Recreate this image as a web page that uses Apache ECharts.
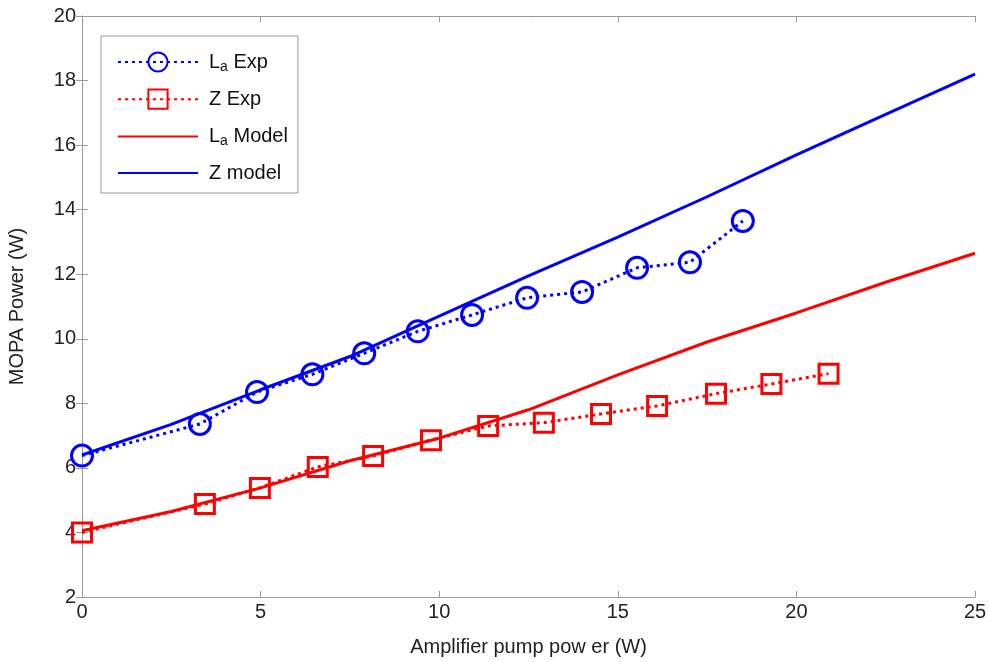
<!DOCTYPE html>
<html><head><meta charset="utf-8">
<script src="https://cdn.jsdelivr.net/npm/echarts@6/dist/echarts.min.js"></script>
<style>html,body{margin:0;padding:0;background:#fff}#c{width:989px;height:662px}</style>
</head><body><div id="c"></div>
<script>
// La experimental data
const laExpX = [0, 3.3, 4.9, 6.45, 7.9, 9.4, 10.92, 12.46, 14.0, 15.54, 17.02, 18.5];
const laExpY = [6.38, 7.36, 8.35, 8.9, 9.55, 10.23, 10.74, 11.27, 11.45, 12.2, 12.37, 13.65];
// Z experimental data
const zExpX = [0, 3.44, 4.98, 6.6, 8.15, 9.77, 11.37, 12.93, 14.53, 16.1, 17.75, 19.3, 20.9];
const zExpY = [4.0, 4.88, 5.38, 6.03, 6.37, 6.86, 7.3, 7.4, 7.67, 7.92, 8.3, 8.6, 8.92];
// Model curves
const modelX = [0, 2.5, 5, 7.5, 10, 12.5, 15, 17.5, 20, 22.5, 25];
const laModelY = [4.05, 4.65, 5.38, 6.22, 6.92, 7.8, 8.88, 9.9, 10.8, 11.75, 12.65];
const zModelY = [6.4, 7.35, 8.42, 9.45, 10.7, 11.95, 13.15, 14.4, 15.7, 16.95, 18.2];
// Axis ticks
const xTicks = {min: 0, max: 25, interval: 5};
const yTicks = {min: 2, max: 20, interval: 2};

const pairs = (xs, ys) => xs.map((x, i) => [x, ys[i]]);
const BLUE = '#0000ff', RED = '#ff0000';
const FONT = 'Liberation Sans';
const FS = 20;
const axisCommon = {
  axisLine: {show: true, lineStyle: {color: '#9a9a9a', width: 1}},
  axisTick: {show: true, inside: true, length: 6, lineStyle: {color: '#9a9a9a'}},
  splitLine: {show: false}
};
const chart = echarts.init(document.getElementById('c'), null, {renderer: 'canvas'});
chart.setOption({
  backgroundColor: '#fff',
  animation: false,
  grid: {left: 82, right: 14, top: 16, bottom: 65, show: false, containLabel: false, outerBoundsMode: 'none'},
  xAxis: [
    Object.assign({type: 'value', position: 'bottom', min: xTicks.min, max: xTicks.max, interval: xTicks.interval,
      name: 'Amplifier pump pow er (W)', nameLocation: 'middle', nameGap: 40,
      nameTextStyle: {fontFamily: FONT, fontSize: FS, color: '#222'},
      axisLabel: {fontFamily: FONT, fontSize: FS, color: '#222', margin: 5}}, axisCommon),
    Object.assign({type: 'value', position: 'top', min: xTicks.min, max: xTicks.max, interval: xTicks.interval,
      axisLabel: {show: false}}, axisCommon)
  ],
  yAxis: [
    Object.assign({type: 'value', position: 'left', min: yTicks.min, max: yTicks.max, interval: yTicks.interval,
      name: 'MOPA Power (W)', nameLocation: 'middle', nameGap: 55, nameRotate: 90,
      nameTextStyle: {fontFamily: FONT, fontSize: FS, color: '#222'},
      axisLabel: {fontFamily: FONT, fontSize: FS, color: '#222', margin: 6}}, axisCommon),
    Object.assign({type: 'value', position: 'right', min: yTicks.min, max: yTicks.max, interval: yTicks.interval,
      axisLabel: {show: false}}, axisCommon)
  ],
  legend: {
    orient: 'vertical', left: 101, top: 36,
    padding: [14, 10, 10, 16], itemGap: 14.6,
    itemWidth: 80, itemHeight: 24,
    borderColor: '#9a9a9a', borderWidth: 1, backgroundColor: '#fff',
    data: [
      {name: 'La Exp'},
      {name: 'Z Exp'},
      {name: 'La Model', itemStyle: {opacity: 0}},
      {name: 'Z model', itemStyle: {opacity: 0}}
    ],
    formatter: function (n) {
      if (n === 'La Exp') return '{p|L}{s|a}{n| Exp}';
      if (n === 'La Model') return '{p|L}{s|a}{n| Model}';
      return '{p|' + n + '}';
    },
    textStyle: {
      fontFamily: FONT, fontSize: FS, color: '#111',
      rich: {
        p: {fontFamily: FONT, fontSize: FS, color: '#111', lineHeight: 24, padding: [0, 0, 0, 6]},
        n: {fontFamily: FONT, fontSize: FS, color: '#111', lineHeight: 24},
        s: {fontFamily: FONT, fontSize: 14, color: '#111', lineHeight: 14, padding: [10, 0, 0, 0]}
      }
    }
  },
  series: [
    {name: 'La Model', type: 'line', data: pairs(modelX, laModelY), showSymbol: false, symbol: 'none',
     lineStyle: {color: RED, width: 3}, itemStyle: {color: RED}, z: 2},
    {name: 'Z model', type: 'line', data: pairs(modelX, zModelY), showSymbol: false, symbol: 'none',
     lineStyle: {color: BLUE, width: 3}, itemStyle: {color: BLUE}, z: 2},
    {name: 'La Exp', type: 'line', data: pairs(laExpX, laExpY), symbol: 'circle', symbolSize: 21,
     lineStyle: {color: BLUE, width: 3, type: [3, 4]},
     itemStyle: {color: 'rgba(0,0,0,0)', borderColor: BLUE, borderWidth: 3}, z: 3},
    {name: 'Z Exp', type: 'line', data: pairs(zExpX, zExpY), symbol: 'rect', symbolSize: 19,
     lineStyle: {color: RED, width: 3, type: [3, 4]},
     itemStyle: {color: 'rgba(0,0,0,0)', borderColor: RED, borderWidth: 3}, z: 3}
  ]
});
</script></body></html>
